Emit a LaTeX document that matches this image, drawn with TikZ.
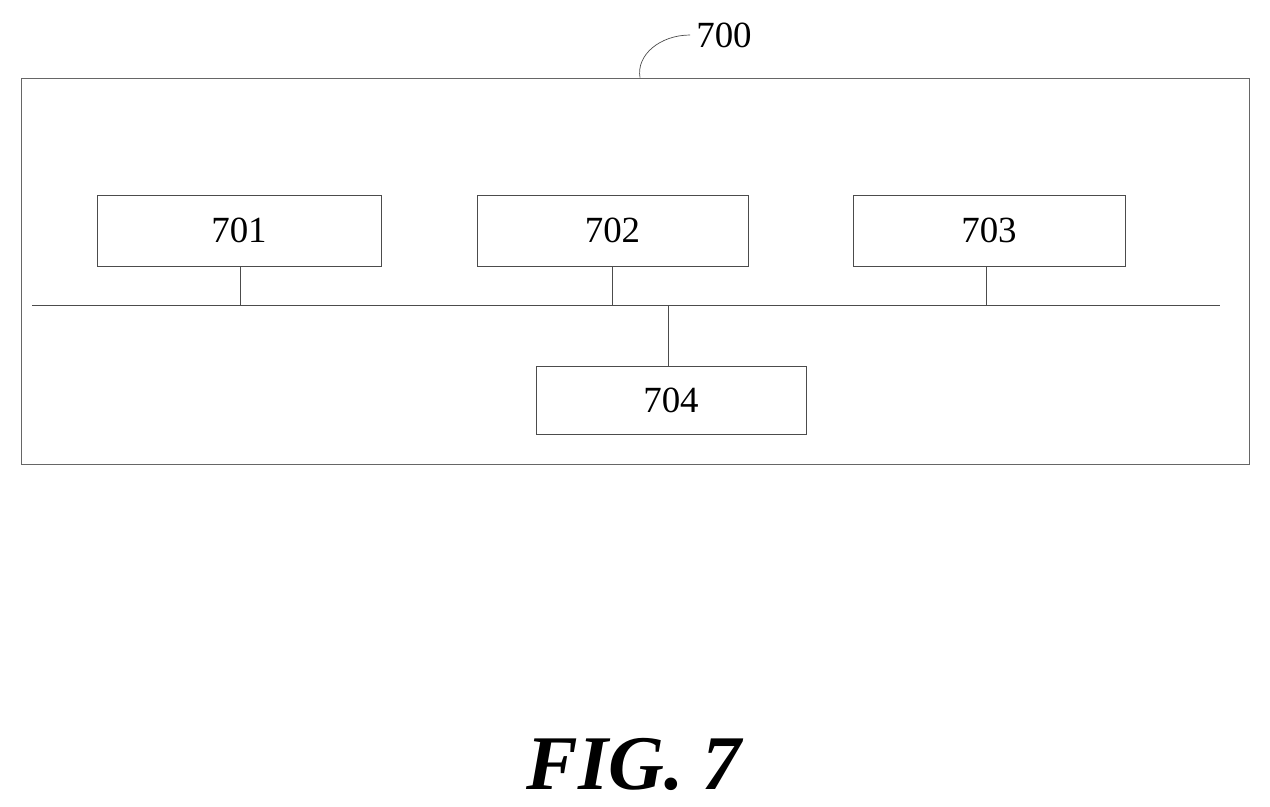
\documentclass[tikz,border=0pt]{standalone}
\usepackage{fontspec}
\setmainfont{Liberation Serif}
\begin{document}
\begin{tikzpicture}
  [x=0.02cm, y=-0.02cm,
  module/.style={
    draw=black!70,
    rectangle,
    inner sep=0pt,
    font=\fontsize{21}{24}\selectfont,
    thin}, cadre/.style={
    draw=black!60,
    rectangle,
    inner sep=0pt,
    thin}, bus/.style={
    draw=black!70,
    thin}]

  \useasboundingbox (0,0) rectangle (1270,806);

  \node [cadre, minimum width=24.56cm, minimum height=7.72cm] at (635,271) (systeme) {};
  \node [font=\fontsize{21}{24}\selectfont] at (724,35) (label) {700};

  \node [module, minimum width=5.68cm, minimum height=1.42cm] at (239,230.5) (m701) {701};
  \node [module, minimum width=5.42cm, minimum height=1.42cm] at (612.5,230.5) (m702) {702};
  \node [module, minimum width=5.44cm, minimum height=1.42cm] at (989,230.5) (m703) {703};
  \node [module, minimum width=5.40cm, minimum height=1.36cm] at (671,400) (m704) {704};

  \coordinate (busgauche) at (32,305);
  \coordinate (busdroite) at (1220,305);
  \coordinate (p701) at (240,305);
  \coordinate (p702) at (612,305);
  \coordinate (p703) at (986,305);
  \coordinate (p704) at (668,305);

  \draw [bus] (busgauche) -- (busdroite);
  \draw [bus] (m701.south -| p701) -- (p701);
  \draw [bus] (m702.south -| p702) -- (p702);
  \draw [bus] (m703.south -| p703) -- (p703);
  \draw [bus] (p704) -- (m704.north -| p704);
  \draw [bus] (systeme.north -| 640,0) .. controls (636,55) and (660,35) .. (label.west);

  \node [font=\fontsize{44}{50}\selectfont\bfseries\itshape] at (634,764) (figure) {FIG. 7};
\end{tikzpicture}
\end{document}
